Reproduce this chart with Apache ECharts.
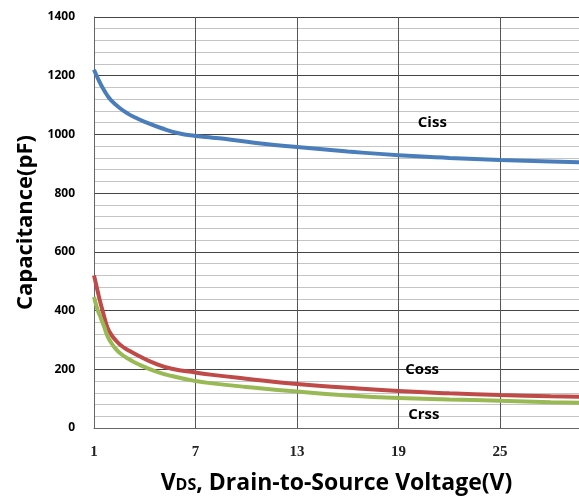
<!DOCTYPE html>
<html><head><meta charset="utf-8">
<script src="https://cdn.jsdelivr.net/npm/echarts@6/dist/echarts.min.js"></script>
<style>html,body{margin:0;padding:0;background:#fff}#c{width:579px;height:496px}</style>
</head><body><div id="c"></div>
<script>
var vCiss = [1,1.25,1.5,1.75,2,2.5,3,3.5,4,5,6,7,8,9,11,13,16,19,22,25,28,30];
var ciss  = [1220,1188,1160,1136,1117,1091,1071,1056,1043,1021,1004,995,989,983,968,957,942,929,920,913,908,905];
var vCoss = [1,1.2,1.4,1.6,1.8,2,2.25,2.6,3,3.6,4.6,5.6,7,8,10,13,16,19,22,25,28,30];
var coss  = [520,470,422,380,342,320,301,281,266,247,220,202,189,181,168,150,137,126,118,112,108,106];
var vCrss = [1,1.2,1.4,1.6,1.8,2,2.25,2.6,3,3.6,4.6,5.6,7,8,10,13,16,19,22,25,28,30];
var crss  = [446,405,375,345,313,292,272,252,237,218,194,177,160,152,140,124,111,102,97,93,88,86];
var xTicks = [1,7,13,19,25];
var yTicks = [0,200,400,600,800,1000,1200,1400];
var labels = [{name:'Ciss', x:21.0, y:1039},{name:'Coss', x:20.4, y:198},{name:'Crss', x:20.5, y:44}];

function zip(a,b){return a.map(function(v,i){return [v,b[i]];});}
var chart = echarts.init(document.getElementById('c'));
var lblFont = {fontFamily:'Open Sans', fontWeight:'bold', fontSize:15, color:'#000'};
function mk(l){return {coord:[l.x,l.y], symbol:'circle', symbolSize:0, label:Object.assign({show:true, formatter:l.name, position:'inside'}, lblFont)};}
chart.setOption({
  animation:false,
  grid:{left:94, top:17, bottom:68, right:0, containLabel:false, outerBoundsMode:'none'},
  xAxis:{type:'value', min:1, max:29.67, interval:6,
    axisLine:{show:true, onZero:false, lineStyle:{color:'#666'}},
    axisTick:{show:false},
    axisLabel:{margin:17, fontFamily:'Liberation Serif', fontSize:15, fontWeight:'bold', color:'#222',
      formatter:function(v){return xTicks.indexOf(v)>=0? String(v):'';}},
    splitLine:{show:true, lineStyle:{color:'#555', width:1}},
    name:'{v|V}{s|DS}{t|, Drain-to-Source Voltage(V)}', nameLocation:'middle', nameGap:44,
    nameTextStyle:{rich:{
      v:{fontFamily:'Open Sans', fontWeight:'bold', fontSize:23, color:'#000'},
      s:{fontFamily:'Open Sans', fontWeight:'bold', fontSize:16, color:'#000', padding:[4,0,0,0]},
      t:{fontFamily:'Open Sans', fontWeight:'bold', fontSize:23, color:'#000'}}}
  },
  yAxis:{type:'value', min:0, max:1400, interval:200,
    axisLine:{show:true, lineStyle:{color:'#666'}},
    axisTick:{show:false},
    axisLabel:{margin:19, fontFamily:'Open Sans', fontSize:12, fontWeight:'bold', color:'#000',
      formatter:function(v){return yTicks.indexOf(v)>=0? String(v):'';}},
    splitLine:{show:true, lineStyle:{color:'#444', width:1}},
    minorTick:{show:false, splitNumber:5},
    minorSplitLine:{show:true, lineStyle:{color:'#c4c4c4', width:1}},
    name:'Capacitance(pF)', nameLocation:'middle', nameGap:57,
    nameTextStyle:{fontFamily:'Open Sans', fontWeight:'bold', fontSize:22, color:'#000'}
  },
  series:[
    {type:'line', data:zip(vCiss,ciss), smooth:0.5, showSymbol:false, lineStyle:{color:'#4a7ebb', width:4}, itemStyle:{color:'#4a7ebb'},
     markPoint:{data:[mk(labels[0])]}},
    {type:'line', data:zip(vCoss,coss), smooth:0.5, showSymbol:false, lineStyle:{color:'#be4b48', width:4}, itemStyle:{color:'#be4b48'},
     markPoint:{data:[mk(labels[1])]}},
    {type:'line', data:zip(vCrss,crss), smooth:0.5, showSymbol:false, lineStyle:{color:'#98b954', width:4}, itemStyle:{color:'#98b954'},
     markPoint:{data:[mk(labels[2])]}}
  ]
});
</script></body></html>
